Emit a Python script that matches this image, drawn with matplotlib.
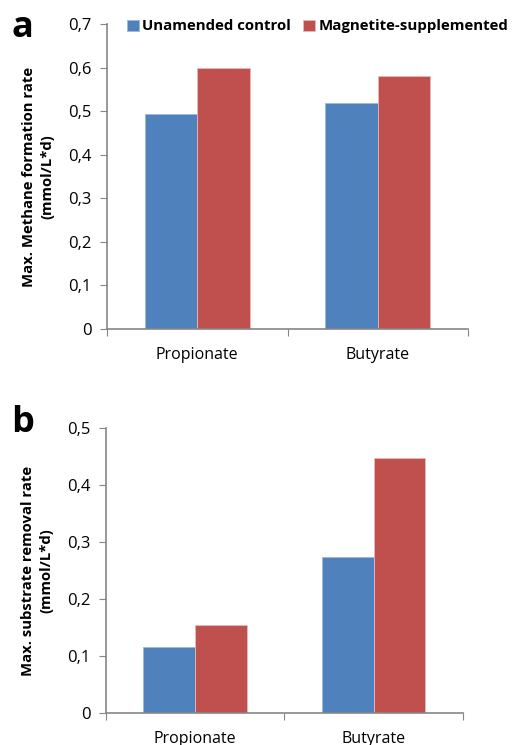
import matplotlib.pyplot as plt
from matplotlib.ticker import FuncFormatter

# data
categories = ['Propionate', 'Butyrate']
series_names = ['Unamended control', 'Magnetite-supplemented']
methane_control = [0.493, 0.519]
methane_magnetite = [0.599, 0.581]
removal_control = [0.115, 0.273]
removal_magnetite = [0.154, 0.447]

blue = '#4F81BD'
red = '#C0504D'
axis_grey = '#868686'

plt.rcParams['font.family'] = ['Open Sans', 'DejaVu Sans']

fig = plt.figure(figsize=(5.15, 7.45), dpi=100)

def comma_fmt(v, pos):
    if abs(v) < 1e-9:
        return '0'
    return f'{v:.1f}'.replace('.', ',')

def style_panel(ax, ymax, ylabel):
    x = range(len(categories))
    ax.set_xlim(-0.5, len(categories) - 0.5)
    ax.set_ylim(0, ymax)
    ax.set_yticks([i / 10 for i in range(int(round(ymax * 10)) + 1)])
    ax.yaxis.set_major_formatter(FuncFormatter(comma_fmt))
    ax.set_xticks([i - 0.5 for i in range(len(categories) + 1)])
    ax.set_xticklabels([])
    ax.set_xticks(list(x), minor=True)
    ax.set_xticklabels(categories, minor=True)
    ax.tick_params(axis='x', which='minor', length=0, pad=13, labelsize=11.5)
    ax.tick_params(axis='x', which='major', length=5, color=axis_grey, direction='out')
    ax.tick_params(axis='y', length=5, color=axis_grey, labelsize=12, pad=6)
    for s in ['top', 'right']:
        ax.spines[s].set_visible(False)
    for s in ['left', 'bottom']:
        ax.spines[s].set_color(axis_grey)
        ax.spines[s].set_linewidth(1.2)
    ax.set_ylabel(ylabel, fontsize=10.7, fontweight='bold', labelpad=10,
                  linespacing=1.4)

w = 0.29
xs = range(len(categories))

# panel a
ax1 = fig.add_axes([0.2078, 0.5584, 0.701, 0.4094])
ax1.bar([x - w / 2 for x in xs], methane_control, w, color=blue,
        edgecolor='#9DB9DD', linewidth=0.6, label=series_names[0])
ax1.bar([x + w / 2 for x in xs], methane_magnetite, w, color=red,
        edgecolor='#E6B9B8', linewidth=0.6, label=series_names[1])
style_panel(ax1, 0.7, 'Max. Methane formation rate\n(mmol/L*d)')
ax1.legend(loc='upper left', bbox_to_anchor=(0.04, 1.035), ncol=2, frameon=False,
           prop={'weight': 'bold', 'size': 10.8}, handlelength=0.75,
           handleheight=0.75, handletextpad=0.25, columnspacing=0.8,
           borderaxespad=0)
fig.text(0.022, 0.950, 'a', fontsize=26, fontweight='bold', va='baseline')

# panel b
ax2 = fig.add_axes([0.2058, 0.043, 0.693, 0.3825])
ax2.bar([x - w / 2 for x in xs], removal_control, w, color=blue,
        edgecolor='#9DB9DD', linewidth=0.6)
ax2.bar([x + w / 2 for x in xs], removal_magnetite, w, color=red,
        edgecolor='#E6B9B8', linewidth=0.6)
style_panel(ax2, 0.5, 'Max. substrate removal rate\n(mmol/L*d)')
fig.text(0.022, 0.420, 'b', fontsize=26, fontweight='bold', va='baseline')

fig.savefig('out.png', dpi=100, facecolor='w')
